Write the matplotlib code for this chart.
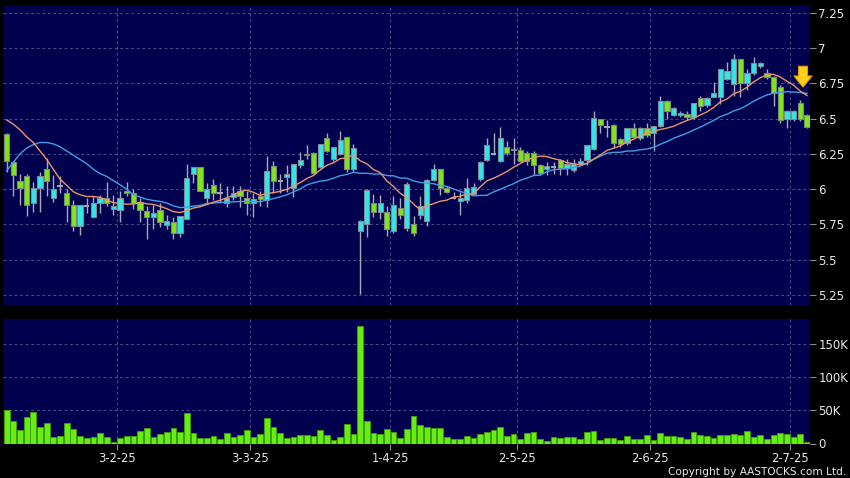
import matplotlib
matplotlib.use("Agg")
import matplotlib.pyplot as plt
import numpy as np
import pandas as pd

# daily candles, 6 Jan 2025 .. 4 Jul 2025 (index 0..120)
opens = [6.39, 6.19, 6.06, 6.09, 5.90, 6.01, 6.14, 5.94, 6.02, 5.97,
         5.89, 5.74, 5.88, 5.80, 5.90, 5.94, 5.86, 5.85, 5.985, 5.97,
         5.91, 5.845, 5.80, 5.85, 5.745, 5.765, 5.69, 5.79, 6.11, 6.155,
         5.935, 6.03, 5.97, 5.90, 5.945, 5.99, 5.94, 5.905, 5.95, 5.92,
         6.165, 6.06, 6.088, 6.01, 6.17, 6.25, 6.254, 6.158, 6.36, 6.21,
         6.25, 6.37, 6.14, 5.70, 5.753, 5.90, 5.835, 5.84, 5.703, 5.864,
         5.722, 5.75, 5.82, 5.774, 6.064, 6.14, 6.005, 5.94, 5.916, 5.923,
         5.965, 6.07, 6.206, 6.25, 6.20, 6.30, 6.275, 6.277, 6.254, 6.254,
         6.17, 6.142, 6.16, 6.206, 6.15, 6.135, 6.18, 6.206, 6.284, 6.50,
         6.44, 6.454, 6.355, 6.324, 6.43, 6.36, 6.43, 6.395, 6.447, 6.626,
         6.525, 6.523, 6.532, 6.508, 6.648, 6.596, 6.65, 6.65, 6.778, 6.744,
         6.919, 6.749, 6.82, 6.872, 6.824, 6.796, 6.725, 6.50, 6.50, 6.608,
         6.525]
highs = [6.40, 6.20, 6.11, 6.11, 6.05, 6.12, 6.22, 6.10, 6.09, 6.00,
         5.92, 5.89, 5.94, 5.95, 5.96, 6.05, 5.96, 5.99, 6.05, 6.00,
         5.94, 5.88, 5.89, 5.90, 5.82, 5.80, 5.81, 6.18, 6.16, 6.16,
         6.04, 6.07, 6.04, 6.02, 6.02, 6.02, 5.99, 5.97, 5.99, 6.235,
         6.20, 6.11, 6.17, 6.18, 6.265, 6.31, 6.26, 6.32, 6.395, 6.30,
         6.41, 6.37, 6.32, 5.78, 6.00, 5.965, 5.96, 5.88, 5.95, 5.94,
         6.05, 5.81, 5.95, 6.07, 6.176, 6.14, 6.02, 5.98, 5.98, 6.08,
         6.04, 6.20, 6.36, 6.40, 6.44, 6.34, 6.36, 6.30, 6.27, 6.27,
         6.18, 6.19, 6.19, 6.21, 6.21, 6.21, 6.22, 6.31, 6.553, 6.50,
         6.49, 6.46, 6.36, 6.43, 6.47, 6.44, 6.47, 6.45, 6.66, 6.63,
         6.58, 6.55, 6.55, 6.61, 6.66, 6.65, 6.76, 6.85, 6.90, 6.957,
         6.92, 6.85, 6.935, 6.90, 6.85, 6.80, 6.74, 6.56, 6.56, 6.63,
         6.53]
lows = [6.12, 5.95, 5.89, 5.81, 5.84, 5.84, 5.95, 5.91, 5.97, 5.77,
        5.70, 5.675, 5.83, 5.80, 5.83, 5.88, 5.82, 5.77, 5.95, 5.86,
        5.77, 5.645, 5.72, 5.73, 5.72, 5.645, 5.66, 5.79, 6.04, 5.99,
        5.90, 5.92, 5.90, 5.87, 5.92, 5.87, 5.82, 5.80, 5.88, 5.875,
        5.97, 5.97, 5.98, 5.945, 6.15, 6.21, 6.11, 6.15, 6.26, 6.20,
        6.24, 6.12, 6.13, 5.257, 5.66, 5.80, 5.79, 5.67, 5.69, 5.79,
        5.70, 5.665, 5.79, 5.74, 6.06, 5.96, 5.97, 5.93, 5.82, 5.90,
        5.96, 6.06, 6.20, 6.24, 6.19, 6.24, 6.18, 6.19, 6.17, 6.10,
        6.10, 6.10, 6.11, 6.10, 6.10, 6.12, 6.17, 6.17, 6.28, 6.40,
        6.37, 6.29, 6.30, 6.31, 6.36, 6.35, 6.37, 6.27, 6.44, 6.50,
        6.52, 6.51, 6.49, 6.50, 6.55, 6.58, 6.65, 6.60, 6.77, 6.66,
        6.65, 6.70, 6.81, 6.86, 6.78, 6.59, 6.47, 6.43, 6.48, 6.48,
        6.43]
closes = [6.20, 6.10, 6.01, 5.89, 6.01, 6.09, 6.06, 6.00, 6.02, 5.89,
          5.74, 5.89, 5.88, 5.90, 5.94, 5.90, 5.88, 5.94, 5.97, 5.90,
          5.85, 5.80, 5.83, 5.77, 5.775, 5.69, 5.81, 6.08, 6.155, 5.99,
          6.00, 5.97, 5.97, 5.935, 5.975, 5.95, 5.90, 5.93, 5.93, 6.13,
          6.06, 6.06, 6.107, 6.18, 6.206, 6.245, 6.116, 6.317, 6.27, 6.30,
          6.35, 6.14, 6.29, 5.774, 5.994, 5.835, 5.90, 5.72, 5.887, 5.817,
          6.036, 5.69, 5.88, 6.064, 6.14, 6.005, 5.98, 5.94, 5.935, 6.005,
          6.013, 6.194, 6.31, 6.25, 6.36, 6.254, 6.285, 6.20, 6.20, 6.17,
          6.112, 6.164, 6.16, 6.15, 6.18, 6.176, 6.20, 6.31, 6.506, 6.454,
          6.44, 6.324, 6.317, 6.43, 6.37, 6.43, 6.38, 6.447, 6.626, 6.555,
          6.572, 6.537, 6.508, 6.608, 6.589, 6.648, 6.683, 6.848, 6.838, 6.919,
          6.749, 6.82, 6.895, 6.895, 6.796, 6.683, 6.49, 6.555, 6.555, 6.50,
          6.44]
volumes = [50500, 34000, 20000, 39500, 47000, 25500, 31500, 10000, 12000, 30500,
           22500, 11500, 8000, 10000, 16000, 10500, 2000, 9000, 12000, 12000,
           19000, 23500, 10500, 14000, 18000, 23500, 18000, 45500, 16500, 9000,
           9000, 12000, 7500, 16500, 10000, 13000, 21000, 10000, 14000, 38500,
           25000, 16500, 8000, 10500, 13000, 13500, 11000, 21000, 13000, 6000,
           10500, 29500, 14000, 177000, 34500, 16500, 14500, 22500, 17500, 9000,
           22500, 42000, 28000, 25500, 23500, 23000, 10000, 6500, 7000, 11500,
           8000, 15000, 18000, 20500, 25500, 12000, 14000, 7000, 16000, 18000,
           7000, 4000, 10500, 8500, 9500, 10500, 7500, 17000, 19000, 6000,
           8000, 8000, 5500, 12000, 7000, 7500, 13500, 6000, 16500, 12000,
           11500, 9500, 7500, 17000, 13500, 12000, 8000, 13500, 13500, 14000,
           13500, 19500, 9500, 13500, 7500, 13500, 15500, 14500, 10000, 15000,
           2000]

# moving averages before enough history is on the chart
ma10_head = [6.49, 6.46, 6.42, 6.37, 6.33, 6.27, 6.21, 6.14, 6.07]
ma20_head = [6.13, 6.19, 6.25, 6.29, 6.315, 6.33, 6.33, 6.32, 6.30, 6.27,
             6.24, 6.21, 6.18, 6.14, 6.11, 6.09, 6.06, 6.03, 6.00]

# first trading day of each month shown, and its label
month_idx = [17, 37, 58, 77, 97, 118]
month_labels = ["3-2-25", "3-3-25", "1-4-25", "2-5-25", "2-6-25", "2-7-25"]

price_ticks = [5.25, 5.5, 5.75, 6.0, 6.25, 6.5, 6.75, 7.0, 7.25]
price_labels = ["5.25", "5.5", "5.75", "6", "6.25", "6.5", "6.75", "7", "7.25"]
vol_ticks = [0, 50000, 100000, 150000]
vol_labels = ["0", "50K", "100K", "150K"]

df = pd.DataFrame({"open": opens, "high": highs, "low": lows,
                   "close": closes, "volume": volumes})
x = np.arange(len(df))
ma10 = df["close"].rolling(10).mean().to_numpy()
ma10[:len(ma10_head)] = ma10_head
ma20 = df["close"].rolling(20).mean().to_numpy()
ma20[:len(ma20_head)] = ma20_head

BG = "#00004e"
GRID = "#464c86"
UP = "#33e6e6"
DOWN = "#7fe61e"
TXT = "#e8e8e8"

fig = plt.figure(figsize=(8.5, 4.78), dpi=100, facecolor="black")
ax = fig.add_axes([3 / 850, 1 - 305 / 478, 807 / 850, 300 / 478])
axv = fig.add_axes([3 / 850, 1 - 443.5 / 478, 807 / 850, 124.5 / 478])

grid_x = [m - 0.5 for m in month_idx]

for a in (ax, axv):
    a.set_facecolor(BG)
    for s in a.spines.values():
        s.set_visible(False)
    a.set_xlim(-0.55, len(df) - 0.55)
    for gx in grid_x:
        a.axvline(gx, color=GRID, lw=0.8, ls=(0, (2.5, 2.5)), zorder=0)
    a.yaxis.tick_right()
    a.tick_params(axis="y", colors="#909090", labelcolor=TXT, length=4,
                  width=0.8, pad=2, labelsize=8.5)

# price panel
ax.set_ylim(5.179, 7.304)
ax.set_yticks(price_ticks)
ax.set_yticklabels(price_labels)
for p in price_ticks:
    ax.axhline(p, color=GRID, lw=0.8, ls=(0, (2.5, 2.5)), zorder=0)
ax.set_xticks([])

up = df["close"] > df["open"]
down = df["close"] < df["open"]
flat = df["close"] == df["open"]

ax.vlines(x, df["low"], df["high"], color="#a8a8b8", lw=1.0, zorder=2)
body_lo = np.minimum(df["open"], df["close"])
body_h = (df["close"] - df["open"]).abs()
ax.bar(x[up], body_h[up], bottom=body_lo[up], width=0.78, color=UP,
       edgecolor="#7c8c98", linewidth=0.8, zorder=3)
ax.bar(x[down], body_h[down], bottom=body_lo[down], width=0.78, color=DOWN,
       edgecolor="#7c8a70", linewidth=0.8, zorder=3)
ax.hlines(df["close"][flat], x[flat] - 0.39, x[flat] + 0.39,
          color="#a8a8b8", lw=1.4, zorder=3)

ax.plot(x, ma20, color="#3f9fe6", lw=1.0, zorder=4)
ax.plot(x, ma10, color="#e8956a", lw=1.0, zorder=4)

# yellow marker arrow over the latest averages
ax.annotate("", xy=(x[-1] - 0.6, ma10[-1] + 0.04), xytext=(0, 19),
            textcoords="offset points",
            arrowprops=dict(arrowstyle="simple,head_length=0.8,head_width=1.3,tail_width=0.65",
                            fc="#ffd21a", ec="#e09a00", lw=0.8),
            zorder=5)

# volume panel
axv.set_ylim(0, 186800)
axv.set_yticks(vol_ticks)
axv.set_yticklabels(vol_labels)
for v in vol_ticks[1:]:
    axv.axhline(v, color=GRID, lw=0.8, ls=(0, (2.5, 2.5)), zorder=0)
axv.bar(x, df["volume"], width=0.86, color="#66ee11", edgecolor="#3f9a10",
        linewidth=0.7, zorder=3)
axv.set_xticks(grid_x)
axv.set_xticklabels(month_labels)
axv.tick_params(axis="x", colors="#909090", labelcolor=TXT, length=4,
                width=0.8, pad=2, labelsize=8.3)

fig.text(846 / 850, 1 - 472 / 478, "Copyright by AASTOCKS.com Ltd.",
         color=TXT, fontsize=7.6, ha="right", va="center")

fig.savefig("out.png", dpi=100, facecolor="black")
